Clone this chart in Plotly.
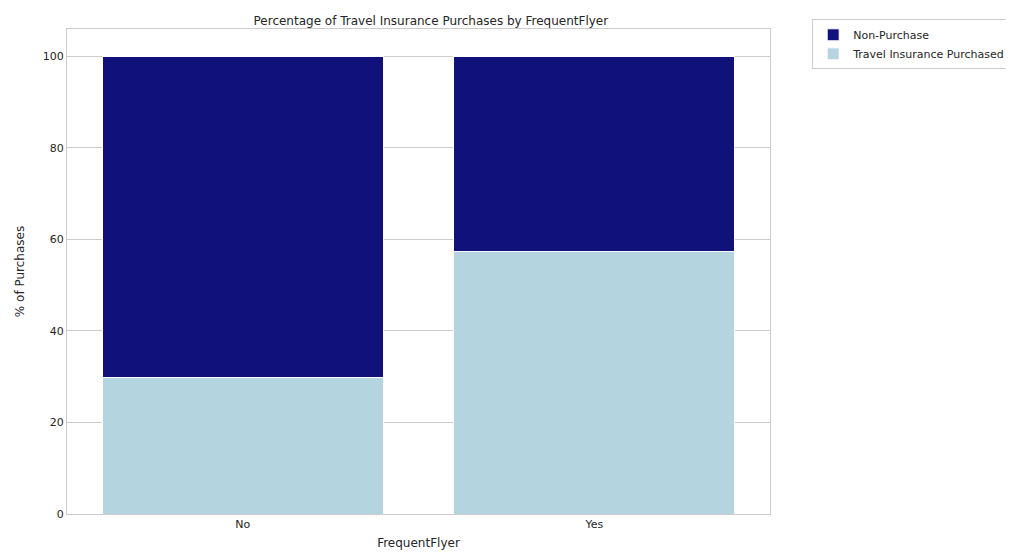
import plotly.graph_objects as go

categories = ["No", "Yes"]
purchased_pct = [29.9, 57.4]
non_purchase_pct = [70.1, 42.6]

fig = go.Figure()
fig.add_trace(go.Bar(
    x=categories, y=purchased_pct, name="Travel Insurance Purchased",
    marker=dict(color="#b4d5df", line=dict(color="white", width=1)),
    width=0.8,
))
fig.add_trace(go.Bar(
    x=categories, y=non_purchase_pct, name="Non-Purchase",
    marker=dict(color="#10117a", line=dict(color="white", width=1)),
    width=0.8,
))

fig.update_layout(
    barmode="stack",
    width=1014, height=556,
    paper_bgcolor="white", plot_bgcolor="white",
    font=dict(family="DejaVu Sans", size=11, color="#262626"),
    title=dict(text="Percentage of Travel Insurance Purchases by FrequentFlyer",
               x=0.417, xanchor="center", y=0.977, yanchor="middle", font=dict(size=12)),
    margin=dict(l=43, r=220, t=11, b=50),
    legend=dict(x=1.06, y=1.02, xanchor="left", yanchor="top",
                traceorder="reversed", bordercolor="#cccccc", borderwidth=1,
                font=dict(size=11), tracegroupgap=0),
    xaxis=dict(title=dict(text="FrequentFlyer", font=dict(size=12), standoff=8),
               range=[-0.5, 1.5], showgrid=False, showline=True, mirror=True,
               linecolor="#cccccc", ticks=""),
    yaxis=dict(title=dict(text="% of Purchases", font=dict(size=12)),
               range=[0, 106], dtick=20, showgrid=True, gridcolor="#cccccc",
               showline=True, mirror=True, linecolor="#cccccc", zeroline=False, ticks=""),
)

fig.write_html("out.html")
